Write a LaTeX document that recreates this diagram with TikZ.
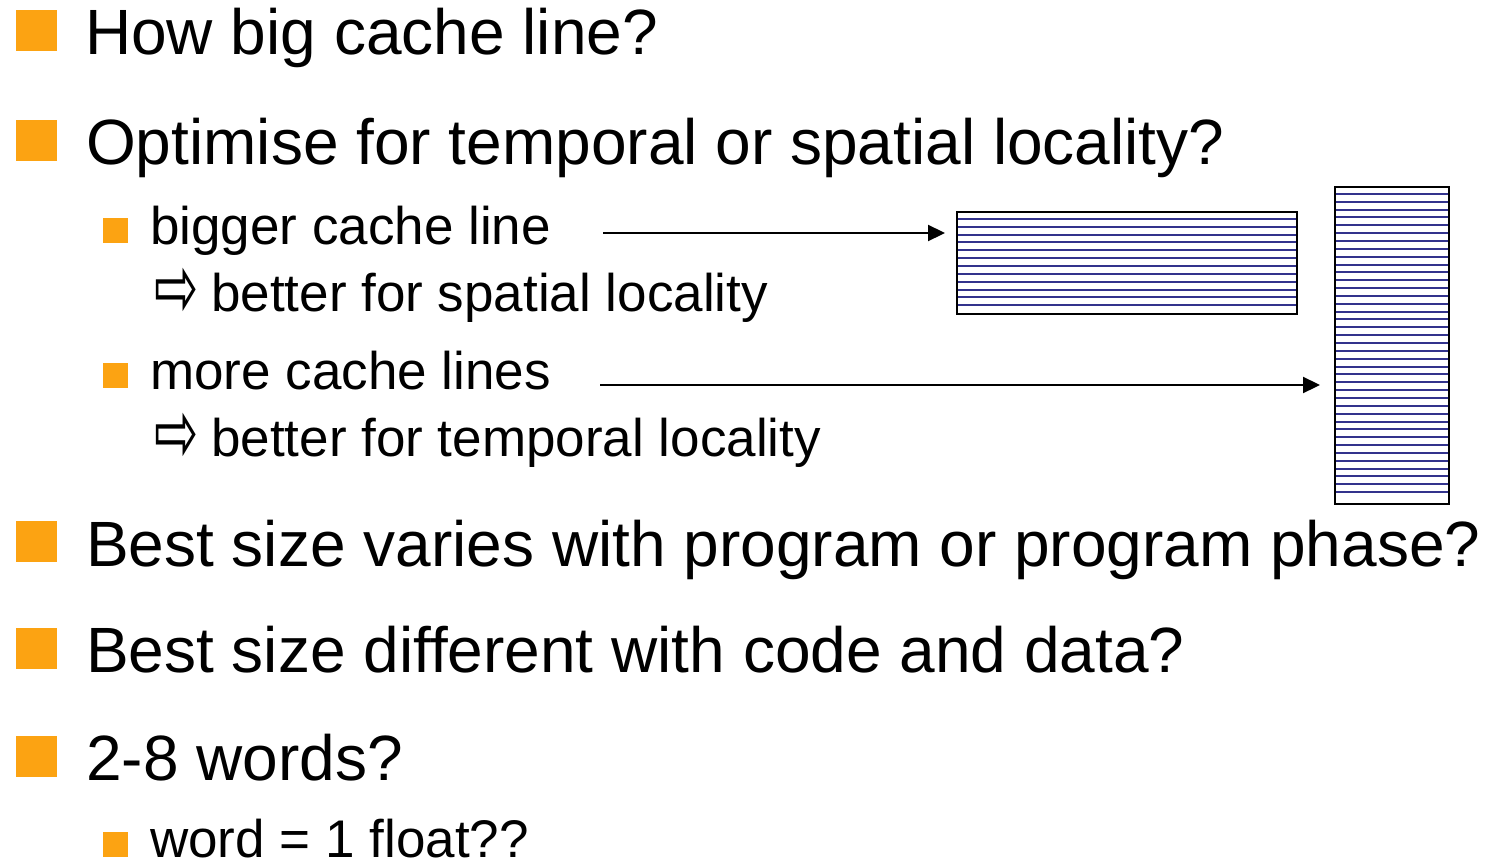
\documentclass[tikz,border=0pt]{standalone}
\usepackage{fontspec}
\setmainfont{Liberation Sans}
\newfontfamily\symfont{DejaVu Sans}
\usetikzlibrary{arrows.meta}
\definecolor{bulletorange}{RGB}{252,163,18}
\definecolor{stripe}{RGB}{50,50,140}
\newcommand{\impliesmark}{\scalebox{1.2}[2.0]{\symfont\fontsize{44}{50}\selectfont ⇨}}
\tikzset{
  bigtext/.style={anchor=base west,inner sep=0pt,font=\fontsize{64}{76}\selectfont},
  smalltext/.style={anchor=base west,inner sep=0pt,font=\fontsize{53}{64}\selectfont},
  impl/.style={anchor=west,inner sep=0pt},
  bigbullet/.style={fill=bulletorange,minimum size=41pt,inner sep=0pt},
  smallbullet/.style={fill=bulletorange,minimum size=25pt,inner sep=0pt},
  cacheblock/.style={draw=black,line width=2pt,inner sep=0pt},
  pointer/.style={line width=2.2pt,arrows={-Triangle[length=17pt,width=16pt,scale=1]}},
}
\begin{document}
\begin{tikzpicture}[x=1pt,y=-1pt]
\useasboundingbox (0,0) rectangle (1488,862);

% top-level bullets
\node[bigbullet] (b1) at (36.5,30) {};
\node[bigtext] (t1) at (85,54) {How big cache line?};
\node[bigbullet] (b2) at (36.5,140) {};
\node[bigtext] (t2) at (86,164) {Optimise for temporal or spatial locality?};
\node[bigbullet] (b3) at (36.5,541) {};
\node[bigtext] (t3) at (86,566) {Best size varies with program or program phase?};
\node[bigbullet] (b4) at (36.5,648) {};
\node[bigtext] (t4) at (86,672) {Best size different with code and data?};
\node[bigbullet] (b5) at (36.5,756) {};
\node[bigtext] (t5) at (86,780) {2-8 words?};

% second-level bullets
\node[smallbullet] (s1) at (115,230.5) {};
\node[smalltext] (u1) at (150,244) {bigger cache line};
\node[impl] (i1) at (154,292.5) {\impliesmark};
\node[smalltext] (v1) at (211,311) {better for spatial locality};
\node[smallbullet] (s2) at (115,375) {};
\node[smalltext] (u2) at (150,389) {more cache lines};
\node[impl] (i2) at (154,437.5) {\impliesmark};
\node[smalltext] (v2) at (211,456) {better for temporal locality};
\node[smallbullet] (s3) at (115,844.5) {};
\node[smalltext] (u3) at (150,857) {word = 1 float??};

% cache shapes: few long lines vs. many short lines
\node[cacheblock,minimum width=340pt,minimum height=102pt] (wide) at (1127,263) {};
\node[cacheblock,minimum width=114pt,minimum height=317pt] (tall) at (1392,345.5) {};
\foreach \k in {1,...,12}
  \draw[stripe,line width=2pt] ([yshift=-\k*7.85pt]wide.north west) -- ([yshift=-\k*7.85pt]wide.north east);
\foreach \k in {1,...,39}
  \draw[stripe,line width=2pt] ([yshift=-\k*7.85pt]tall.north west) -- ([yshift=-\k*7.85pt]tall.north east);
\node[cacheblock,minimum width=340pt,minimum height=102pt] at (wide.center) {};
\node[cacheblock,minimum width=114pt,minimum height=317pt] at (tall.center) {};

% pointers from the two options
\coordinate (p1) at (603,233);
\coordinate (p2) at (600,385);
\draw[pointer,shorten >=11pt] (p1) -- (p1 -| wide.west);
\draw[pointer,shorten >=14pt] (p2) -- (p2 -| tall.west);
\end{tikzpicture}
\end{document}
